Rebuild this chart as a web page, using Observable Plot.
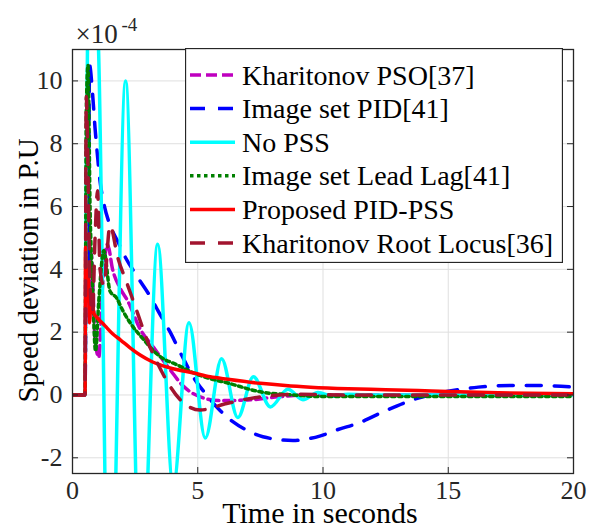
<!DOCTYPE html>
<html><head><meta charset="utf-8">
<script src="https://cdn.jsdelivr.net/npm/d3@7"></script>
<script src="https://cdn.jsdelivr.net/npm/@observablehq/plot@0.6"></script>
<style>
body{margin:0;background:#fff;}
#wrap{position:relative;width:594px;height:528px;overflow:hidden;}
</style></head><body><div id="wrap"></div>
<script>
// Tick values
const xTicks = [0, 5, 10, 15, 20];
const yTicks = [-2, 0, 2, 4, 6, 8, 10];

// Series names (legend order)
const seriesNames = ["Kharitonov PSO[37]", "Image set PID[41]", "No PSS", "Image set Lead Lag[41]", "Proposed PID-PSS", "Kharitonov Root Locus[36]"];
const seriesColors = ["#bf00bf", "#0000ff", "#00ffff", "#008000", "#ff0000", "#a2142f"];
const seriesDash = ["11,5", "15,13", null, "3.5,3.5", null, "15,13"];

// Values in units of 1e-4 p.u., time in seconds
const tPSO = [0,0.5,0.55,0.65,0.75,0.9,1.05,1.2,1.4,1.6,1.9,2.2,2.7,3.25,3.9,4.4,5.1,5.9,7.0,8.2,9.5,12,20];
const vPSO = [0,0,5.5,2.5,4.5,1.8,1.2,3.5,4.8,4.0,3.4,3.0,2.1,1.5,0.8,0.3,-0.06,-0.18,-0.16,-0.06,0,0,0];

const tPID = [0,0.5,0.55,0.62,0.68,0.8,0.9,1.0,1.1,1.25,1.5,1.8,2.1,2.6,3.2,3.4,3.9,4.4,4.8,5.3,5.9,6.4,6.9,7.6,8.8,9.9,10.6,11.4,12.5,13.8,15,16.2,17.5,18.7,20];
const vPID = [0,0,6,3,10.5,9.6,8.5,7.6,6.8,6.1,5.4,4.9,4.4,3.75,3.0,2.7,2.0,1.2,0.6,0.05,-0.5,-0.85,-1.1,-1.33,-1.45,-1.3,-1.1,-0.9,-0.5,-0.1,0.12,0.25,0.3,0.3,0.25];

const tNoPSS = [0,0.5,0.55,0.6,0.81,1.04,1.48,2.12,2.73,3.4,4.02,4.65,5.3,5.95,6.6,7.22,7.9,8.6,9.2,9.8,10.4,11,12,20];
const vNoPSS = [0,0,7,11.2,15,11,-9,10,-7,4.8,-2.9,2.3,-1.37,1.15,-0.72,0.58,-0.38,0.18,-0.15,0.08,-0.04,0.02,0,0];

const tLL = [0,0.5,0.55,0.62,0.7,0.8,0.92,1.05,1.25,1.5,1.75,2.0,2.3,2.8,3.5,4.2,4.84,5.5,6.2,7.5,8.8,10,20];
const vLL = [0,0,9,10.5,6,3.5,1.4,3.0,4.6,3.3,3.1,2.7,2.3,1.8,1.22,0.95,0.7,0.52,0.38,0.1,0,-0.05,-0.05];

const tProp = [0,0.5,0.52,0.56,0.62,0.68,0.75,0.85,1.0,1.3,1.6,1.92,2.3,2.7,3.2,3.9,4.84,5.5,6.2,7.5,8.5,9.5,11,12.5,13.8,15,17,20];
const vProp = [0,0,4.7,3.0,4.0,2.3,3.2,2.6,2.45,2.2,1.95,1.75,1.5,1.27,1.05,0.86,0.7,0.58,0.5,0.37,0.3,0.25,0.2,0.17,0.14,0.11,0.07,0.04];

const tRL = [0,0.5,0.55,0.6,0.7,0.8,0.9,1.0,1.1,1.25,1.5,1.8,2.2,2.6,3.0,3.4,3.8,4.3,5.1,6.1,7.5,9,11,20];
const vRL = [0,0,9.5,8,3.5,2.6,5,6.5,4,3.5,5.4,4.4,3.5,2.6,1.7,1.0,0.4,-0.15,-0.48,-0.28,-0.06,0.02,0,0];

const seriesT = [tPSO, tPID, tNoPSS, tLL, tProp, tRL];
const seriesV = [vPSO, vPID, vNoPSS, vLL, vProp, vRL];

const tables = seriesT.map((ts, i) => ts.map((t, j) => ({t, v: seriesV[i][j], s: seriesNames[i]})));

const ink = "#262626";
const serif = "'Liberation Serif','Times New Roman',serif";
const lineMarks = tables.map((rows, i) => Plot.line(rows, {
  x: "t", y: "v", stroke: seriesColors[i], strokeWidth: 3.5,
  strokeDasharray: seriesDash[i] || undefined, curve: "monotone-x", clip: true,
  strokeLinejoin: "round"
}));

const chart = Plot.plot({
  width: 594, height: 528,
  marginLeft: 72, marginRight: 21, marginTop: 49, marginBottom: 55,
  style: {background: "#fff", fontFamily: serif, fontSize: "26px", color: ink},
  x: {domain: [0, 20], axis: null},
  y: {domain: [-2.5, 11], axis: null},
  marks: [
    Plot.ruleX(xTicks.slice(1, -1), {stroke: "#dfdfdf", strokeWidth: 1}),
    Plot.ruleY(yTicks, {stroke: "#dfdfdf", strokeWidth: 1}),
    ...lineMarks,
    Plot.frame({stroke: ink, strokeWidth: 1.3}),
    Plot.ruleX(xTicks, {insetTop: 418, stroke: ink}),
    Plot.ruleX(xTicks, {insetBottom: 418, stroke: ink}),
    Plot.ruleY(yTicks, {insetRight: 495, stroke: ink}),
    Plot.ruleY(yTicks, {insetLeft: 495, stroke: ink}),
    Plot.text(xTicks, {x: d => d, frameAnchor: "bottom", dy: 17, lineAnchor: "middle", text: d => String(d), fill: ink, fontFamily: serif}),
    Plot.text(yTicks, {y: d => d, frameAnchor: "left", dx: -10, textAnchor: "end", lineAnchor: "middle", text: d => String(d), fill: ink, fontFamily: serif}),
    Plot.text(["Time in seconds"], {frameAnchor: "bottom", dx: -3, dy: 40, textAnchor: "middle", lineAnchor: "middle", fontSize: 30, fill: "#000", fontFamily: serif}),
    Plot.text(["Speed deviation in P.U"], {frameAnchor: "left", dx: -44, dy: 9, rotate: -90, textAnchor: "middle", lineAnchor: "middle", fontSize: 29, fill: "#000", fontFamily: serif}),
    Plot.text(["×10"], {frameAnchor: "top-left", dx: 3, dy: -15, textAnchor: "start", lineAnchor: "middle", fontSize: 27, fill: ink, fontFamily: serif}),
    Plot.text(["-4"], {frameAnchor: "top-left", dx: 49, dy: -25, textAnchor: "start", lineAnchor: "middle", fontSize: 19, fill: ink, fontFamily: serif})
  ]
});

const wrap = document.getElementById("wrap");
wrap.appendChild(chart);

// Legend overlay
const leg = d3.create("svg")
  .attr("width", 378).attr("height", 215)
  .style("position", "absolute").style("left", "185px").style("top", "48px");
leg.append("rect").attr("x", 0.5).attr("y", 0.5).attr("width", 377).attr("height", 214)
  .attr("fill", "#fff").attr("stroke", ink).attr("stroke-width", 1.3);
seriesNames.forEach((name, i) => {
  const y = 27 + i * 33.6;
  const ln = leg.append("line").attr("x1", 5).attr("x2", 50).attr("y1", y).attr("y2", y)
    .attr("stroke", seriesColors[i]).attr("stroke-width", 3.5);
  if (seriesDash[i]) ln.attr("stroke-dasharray", seriesDash[i]);
  leg.append("text").attr("x", 57).attr("y", y).attr("dy", "0.34em")
    .style("font-family", serif)
    .style("font-size", "28px").attr("fill", "#000").text(name);
});
wrap.appendChild(leg.node());
</script></body></html>
